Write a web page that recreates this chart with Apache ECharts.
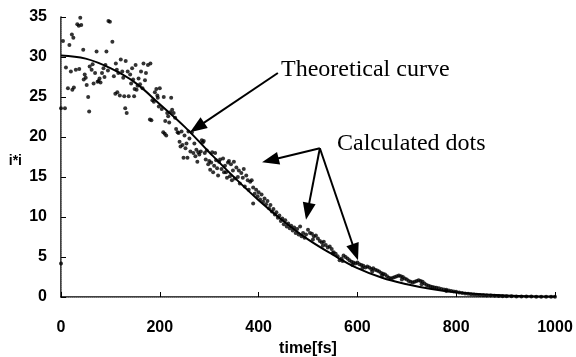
<!DOCTYPE html>
<html>
<head>
<meta charset="utf-8">
<script src="https://cdn.jsdelivr.net/npm/echarts@6/dist/echarts.min.js"></script>
<style>
html, body { margin: 0; padding: 0; background: #fff; }
#main { width: 576px; height: 357px; }
</style>
</head>
<body>
<div id="main"></div>
<script>
"use strict";

// theoretical curve
var curveT = [0, 50, 100, 150, 200, 250, 300, 350, 400, 450, 500, 550, 600, 650, 700, 750, 800, 850, 900, 950, 1000];
var curveV = [30.2, 29.8, 28.6, 26.8, 24.1, 21.3, 18.1, 15.0, 12.1, 9.5, 7.2, 5.3, 3.6, 2.4, 1.6, 1.0, 0.6, 0.35, 0.2, 0.1, 0.05];

// calculated dots [time, i*i], three parts of the run
var dotsEarly = [
    [0, 23.6], [0, 4.2], [4, 32.0], [8, 23.6], [10, 28.7], [14, 26.1], [17, 31.5], [20, 28.2], [22, 32.8], [25, 32.4],
    [26, 26.2], [23, 25.9], [30, 28.4], [33, 34.1], [36, 33.9], [39, 34.9], [41, 34.0], [37, 28.5], [45, 30.9], [46, 27.2],
    [48, 27.8], [50, 27.4], [52, 26.5], [55, 25.0], [57, 23.2], [58, 28.8], [62, 28.4], [64, 29.1], [66, 26.7], [69, 28.0],
    [72, 30.7], [74, 26.9], [76, 27.0], [78, 27.3], [80, 26.8], [83, 28.0], [86, 28.6], [88, 27.5], [90, 29.0], [92, 30.7],
    [96, 34.5], [99, 34.4], [95, 28.3], [104, 31.9], [107, 27.6], [111, 29.2], [113, 28.4], [116, 28.0], [110, 25.4], [114, 25.6],
    [119, 25.2], [121, 29.7], [124, 28.2], [126, 27.4], [128, 25.1], [131, 29.5], [130, 23.6], [133, 23.0], [135, 28.2], [137, 25.1],
    [140, 27.8], [142, 26.7], [144, 28.6], [146, 27.2], [148, 25.1], [149, 26.0], [151, 29.0], [153, 25.9], [155, 26.4], [157, 27.3],
    [160, 26.6], [162, 28.2], [165, 26.1], [167, 29.2], [170, 27.1], [172, 28.0], [176, 29.0], [180, 22.2], [183, 22.1], [181, 29.2],
    [185, 24.6], [188, 24.4], [190, 25.6], [193, 26.0], [195, 25.2], [196, 24.9], [198, 23.8], [200, 26.1], [204, 23.5], [207, 20.6],
    [208, 25.0], [210, 20.4], [211, 22.0], [213, 20.2], [215, 23.0], [217, 22.6], [219, 21.8], [221, 23.1], [223, 24.9]
];
var dotsMid = [
    [225, 23.4], [228, 23.0], [231, 22.4], [233, 21.0], [236, 20.6], [238, 20.5], [240, 19.4], [242, 18.8], [244, 20.7], [246, 19.0],
    [248, 17.4], [250, 20.2], [252, 18.6], [254, 19.2], [256, 17.4], [258, 20.7], [260, 19.8], [262, 18.2], [265, 20.6], [268, 18.0],
    [270, 19.2], [272, 17.6], [274, 18.4], [276, 16.9], [278, 18.1], [280, 17.8], [283, 18.2], [285, 19.6], [287, 19.3], [289, 19.5],
    [291, 18.0], [293, 17.2], [295, 18.3], [298, 16.6], [300, 17.0], [302, 15.9], [304, 16.8], [306, 18.1], [308, 15.6], [310, 16.4],
    [312, 18.0], [314, 17.1], [316, 16.1], [318, 15.2], [320, 16.9], [322, 17.2], [325, 16.0], [328, 17.3], [330, 15.6], [332, 16.4],
    [334, 15.6], [336, 14.9], [338, 16.8], [340, 17.0], [342, 15.1], [344, 16.6], [346, 14.6], [348, 15.8], [350, 16.9], [352, 14.8],
    [355, 16.2], [358, 15.0], [360, 15.8], [362, 14.2], [365, 15.5], [368, 14.9], [370, 16.0], [372, 13.8], [375, 15.2], [378, 14.6],
    [380, 13.4], [383, 14.4], [386, 14.6], [389, 13.7], [389, 11.7], [392, 12.9], [395, 13.4], [398, 12.6], [400, 13.1], [403, 12.2],
    [406, 12.8], [409, 11.9], [412, 12.3], [415, 11.6], [418, 12.0], [421, 11.1], [424, 11.5], [427, 10.7], [430, 11.0], [433, 10.3],
    [436, 10.6], [439, 9.9], [442, 10.2], [445, 9.5], [448, 9.8], [451, 9.1], [454, 9.6], [457, 8.8], [460, 9.2], [463, 8.6],
    [466, 8.9], [469, 8.3], [472, 8.7], [475, 8.0], [478, 8.5], [481, 7.8], [484, 8.8], [487, 7.6], [490, 8.0], [493, 7.4], [496, 7.8]
];
var dotsLate = [
    [500, 8.4], [504, 8.0], [508, 7.9], [510, 7.2], [512, 7.6], [516, 7.7], [520, 7.3], [524, 7.0], [528, 6.8], [530, 6.4],
    [532, 6.9], [536, 6.5], [540, 6.2], [544, 6.3], [548, 6.0], [550, 5.5], [552, 5.6], [556, 5.4], [560, 5.1], [564, 4.6],
    [568, 4.8], [570, 4.5], [572, 5.2], [576, 5.0], [580, 4.8], [584, 4.6], [588, 4.4], [590, 4.0], [592, 4.3], [596, 4.2],
    [600, 4.3], [604, 4.1], [608, 4.0], [610, 3.6], [612, 3.9], [616, 3.7], [620, 3.8], [624, 3.7], [628, 3.5], [630, 3.2],
    [632, 3.6], [636, 3.4], [640, 3.3], [644, 3.2], [648, 3.0], [650, 2.7], [652, 2.9], [656, 2.8], [660, 2.6], [664, 2.4],
    [668, 2.3], [672, 2.4], [676, 2.5], [680, 2.6], [684, 2.7], [688, 2.6], [690, 2.2], [692, 2.5], [696, 2.3], [700, 2.2],
    [704, 2.0], [708, 1.9], [712, 1.8], [716, 1.9], [720, 2.0], [724, 2.1], [728, 2.0], [730, 1.6], [732, 1.9], [736, 1.7],
    [740, 1.5], [744, 1.4], [748, 1.3], [752, 1.25], [756, 1.2], [760, 1.15], [765, 1.1], [770, 1.0], [775, 0.95], [780, 0.9],
    [780, 0.75], [785, 0.8], [790, 0.75], [795, 0.7], [800, 0.65], [806, 0.55], [812, 0.5], [818, 0.45], [824, 0.4], [830, 0.35],
    [836, 0.3], [842, 0.28], [848, 0.25], [855, 0.22], [862, 0.2], [870, 0.18], [878, 0.15], [886, 0.12], [894, 0.1], [902, 0.1],
    [912, 0.08], [922, 0.07], [932, 0.06], [942, 0.05], [952, 0.05], [962, 0.04], [972, 0.04], [982, 0.03], [992, 0.03], [1000, 0.03]
];

var xTicks = [0, 200, 400, 600, 800, 1000];
var yTicks = [0, 5, 10, 15, 20, 25, 30, 35];

// annotation arrows, in data units
var curveArrow = [[439, 28.0], [275.5, 21.2]];
var dotsArrowFrom = [524, 18.6];
var dotsArrowTo = [[423.7, 17.1], [499.2, 10.7], [595.7, 5.6]];

var chart = echarts.init(document.getElementById("main"), null, { renderer: "canvas" });

var curveData = curveT.map(function(t, i) { return [t, curveV[i]]; });
var allDots = dotsEarly.concat(dotsMid, dotsLate);

var arrowLines = [[{ coord: curveArrow[0] }, { coord: curveArrow[1] }]];
dotsArrowTo.forEach(function(p) {
    arrowLines.push([{ coord: dotsArrowFrom }, { coord: p }]);
});

var labelFont = { fontFamily: "Liberation Sans", fontWeight: "bold", fontSize: 16, color: "#000" };
var noteFont = "Liberation Serif";

var option = {
    backgroundColor: "#fff",
    animation: false,
    grid: { left: 61, right: 21, top: 17, bottom: 60, outerBoundsMode: "none" },
    xAxis: [{
        type: "value", min: xTicks[0], max: xTicks[xTicks.length - 1], interval: 200,
        name: "time[fs]", nameLocation: "middle", nameGap: 44,
        nameTextStyle: labelFont,
        axisLine: { lineStyle: { color: "#000", width: 1.5 } },
        axisTick: { inside: true, length: 5, lineStyle: { color: "#000" } },
        axisLabel: Object.assign({ margin: 23, formatter: function(v) { return String(v); } }, labelFont),
        splitLine: { show: false }
    }, {
        type: "value", position: "top", min: 0, max: 1000,
        axisLine: { show: true, lineStyle: { color: "#888", type: "dotted", width: 1 } },
        axisTick: { show: false }, axisLabel: { show: false }, splitLine: { show: false }
    }],
    yAxis: [{
        type: "value", min: yTicks[0], max: yTicks[yTicks.length - 1], interval: 5,
        name: "i*i", nameLocation: "middle", nameRotate: 0, nameGap: 39,
        nameTextStyle: {
            fontFamily: "Liberation Sans", fontWeight: "bold", fontSize: 14, color: "#000",
            verticalAlign: "top", lineHeight: 8
        },
        axisLine: { show: true, lineStyle: { color: "#000", width: 1.5 } },
        axisTick: { show: true, inside: true, length: 5, lineStyle: { color: "#000" } },
        axisLabel: Object.assign({ margin: 14 }, labelFont),
        splitLine: { show: false }
    }, {
        type: "value", position: "right", min: 0, max: 35,
        axisLine: { show: true, lineStyle: { color: "#888", type: "dotted", width: 1 } },
        axisTick: { show: false }, axisLabel: { show: false }, splitLine: { show: false }
    }],
    series: [{
        name: "Calculated dots",
        type: "scatter",
        data: allDots,
        symbol: "circle",
        symbolSize: 4,
        itemStyle: { color: "#000" },
        silent: true
    }, {
        name: "Theoretical curve",
        type: "line",
        data: curveData,
        smooth: 0.4,
        showSymbol: false,
        lineStyle: { color: "#000", width: 2 },
        markLine: {
            silent: true,
            symbol: ["none", "triangle"],
            symbolSize: [13, 17],
            label: { show: false },
            lineStyle: { color: "#000", width: 2, type: "solid" },
            data: arrowLines
        }
    }],
    graphic: [{
        type: "text", left: 281, top: 58,
        style: { text: "Theoretical curve", font: "24px " + noteFont, fill: "#000" }
    }, {
        type: "text", left: 337, top: 132,
        style: { text: "Calculated dots", font: "24px " + noteFont, fill: "#000" }
    }]
};

chart.setOption(option);
</script>
</body>
</html>
